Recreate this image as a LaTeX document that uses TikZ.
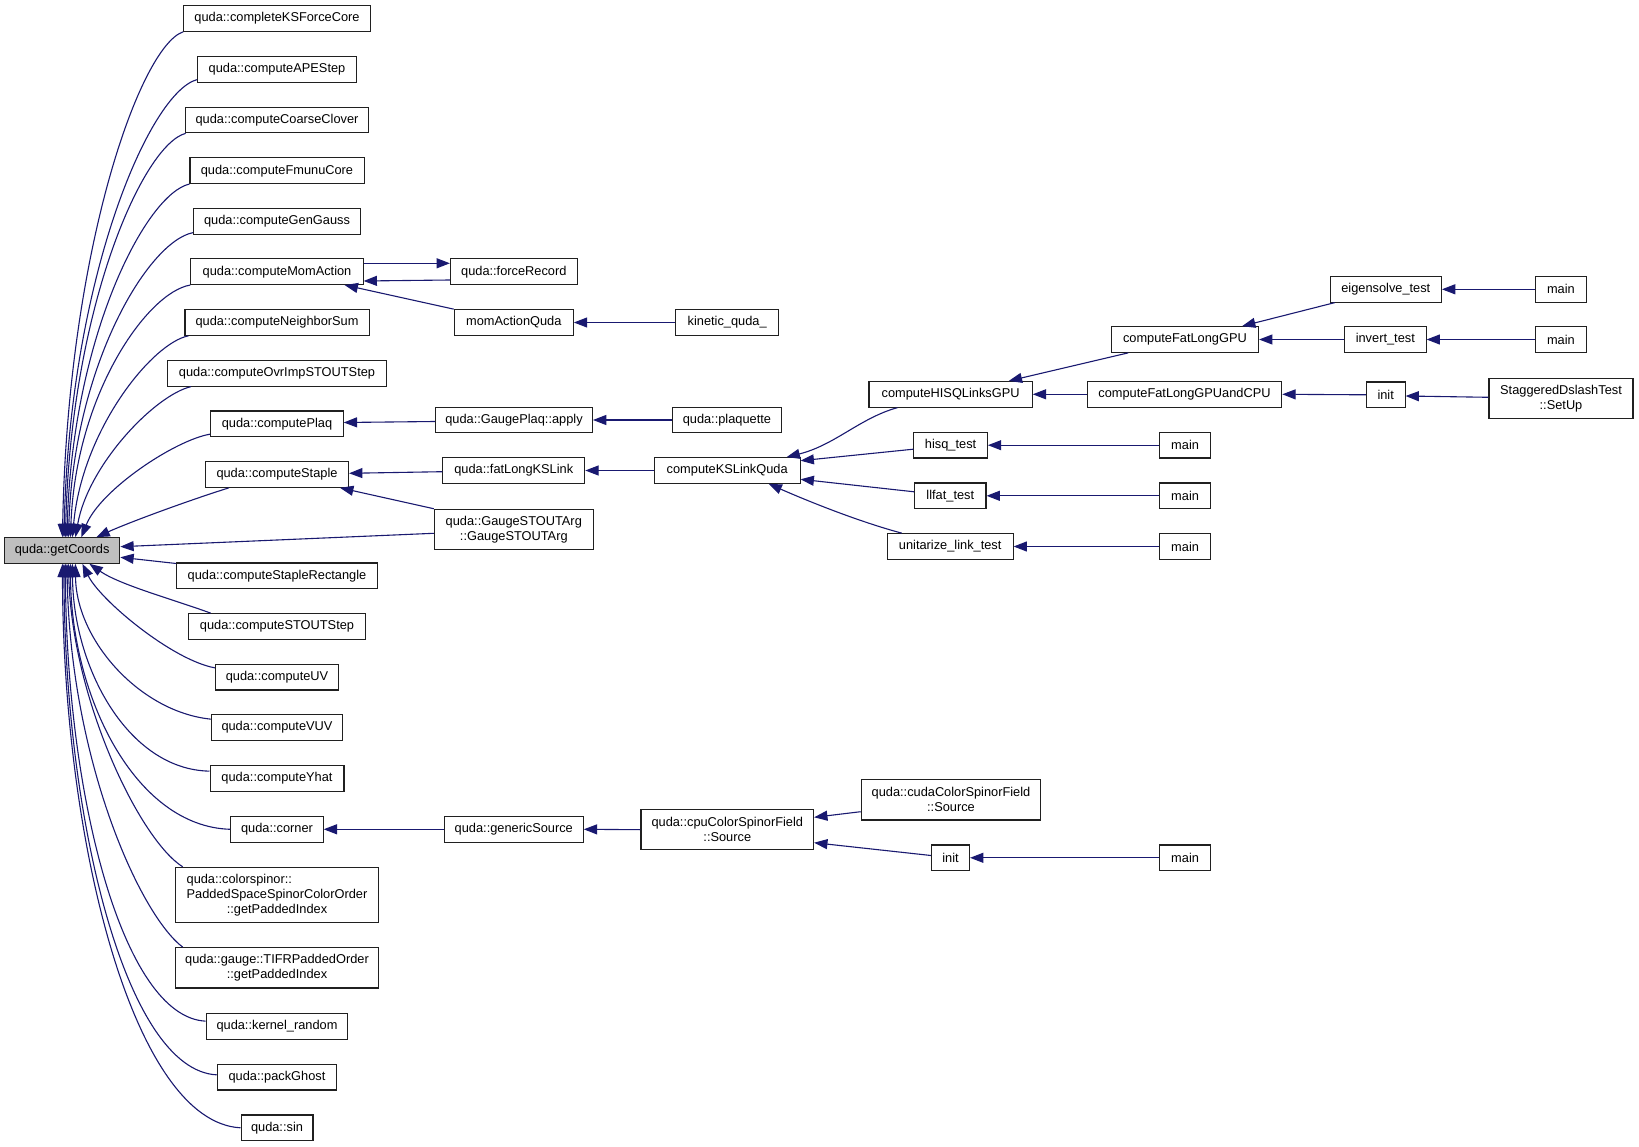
\documentclass[tikz,border=0pt]{standalone}
\usepackage{fontspec}
\setmainfont{Liberation Sans}
\usetikzlibrary{arrows.meta}
\definecolor{edgeblue}{HTML}{191970}
\definecolor{gcfill}{HTML}{BFBFBF}
\definecolor{boxline}{HTML}{202020}
\tikzset{
  fn/.style={draw=boxline, line width=1.1pt, inner sep=0pt, minimum height=25.6pt,
    align=center, font=\fontsize{12.8}{15}\selectfont, text=black},
  edge/.style={draw=edgeblue, line width=1.1pt, -{Triangle[length=13.3pt,width=10pt]}}
}
\begin{document}
\begin{tikzpicture}[x=1pt,y=-1pt]
\fill[white] (0,0) rectangle (1639,1147);
\useasboundingbox (0,0) rectangle (1639,1147);

% column 1
\node[fn, minimum width=115.2pt, fill=gcfill] (gc) at (62.2,550.5) {quda::getCoords};
% column 2
\node[fn, minimum width=186.7pt] (n0) at (277,18.5) {quda::completeKSForceCore};
\node[fn, minimum width=159.2pt] (n1) at (277,69.3) {quda::computeAPEStep};
\node[fn, minimum width=183.7pt] (n2) at (277,120) {quda::computeCoarseClover};
\node[fn, minimum width=174.1pt] (n3) at (277,170.7) {quda::computeFmunuCore};
\node[fn, minimum width=166.9pt] (n4) at (277,221.3) {quda::computeGenGauss};
\node[fn, minimum width=172.2pt] (n5) at (277,271.7) {quda::computeMomAction};
\node[fn, minimum width=184.1pt] (n6) at (277,322.5) {quda::computeNeighborSum};
\node[fn, minimum width=218.9pt] (n7) at (277,373.3) {quda::computeOvrImpSTOUTStep};
\node[fn, minimum width=132.4pt] (n8) at (277,423.8) {quda::computePlaq};
\node[fn, minimum width=143.1pt] (n9) at (277,474.5) {quda::computeStaple};
\node[fn, minimum width=201.3pt] (n10) at (277,575.8) {quda::computeStapleRectangle};
\node[fn, minimum width=177.5pt] (n11) at (277,626.5) {quda::computeSTOUTStep};
\node[fn, minimum width=123.2pt] (n12) at (277,677.2) {quda::computeUV};
\node[fn, minimum width=131.2pt] (n13) at (277,727.5) {quda::computeVUV};
\node[fn, minimum width=133.9pt] (n14) at (277,778.5) {quda::computeYhat};
\node[fn, minimum width=92.3pt] (n15) at (277,829.3) {quda::corner};
\node[fn, minimum width=203.5pt, minimum height=54.7pt] (n16) at (277,894.7)
  {\makebox[0pt][l]{quda::colorspinor::}\phantom{PaddedSpaceSpinorColorOrder}\\PaddedSpaceSpinorColorOrder\\::getPaddedIndex};
\node[fn, minimum width=203.5pt, minimum height=40.3pt] (n17) at (277,967.8) {quda::gauge::TIFRPaddedOrder\\::getPaddedIndex};
\node[fn, minimum width=141.6pt] (n18) at (277,1026.5) {quda::kernel\_random};
\node[fn, minimum width=119.4pt] (n19) at (277,1077.2) {quda::packGhost};
\node[fn, minimum width=71.9pt] (n20) at (277,1127.8) {quda::sin};
% column 3
\node[fn, minimum width=126.7pt] (fr) at (513.8,271.7) {quda::forceRecord};
\node[fn, minimum width=119pt] (mq) at (513.8,322.5) {momActionQuda};
\node[fn, minimum width=156.9pt] (ap) at (514,420) {quda::GaugePlaq::apply};
\node[fn, minimum width=141.9pt] (fl) at (513.8,470.5) {quda::fatLongKSLink};
\node[fn, minimum width=158.8pt, minimum height=40pt] (gsa) at (513.8,529.3) {quda::GaugeSTOUTArg\\::GaugeSTOUTArg};
\node[fn, minimum width=138.9pt] (gs) at (513.8,829.3) {quda::genericSource};
% column 4
\node[fn, minimum width=103.3pt] (kq) at (727.2,322.5) {kinetic\_quda\_};
\node[fn, minimum width=109.4pt] (pq) at (726.9,420) {quda::plaquette};
\node[fn, minimum width=145.7pt] (ks) at (727.2,470.5) {computeKSLinkQuda};
\node[fn, minimum width=172.6pt, minimum height=40.3pt] (cpu) at (727.3,829.7) {quda::cpuColorSpinorField\\::Source};
% column 5
\node[fn, minimum width=163.2pt] (hq) at (950.6,394.3) {computeHISQLinksGPU};
\node[fn, minimum width=73.5pt] (ht) at (950.6,445.2) {hisq\_test};
\node[fn, minimum width=71.4pt] (lt) at (950.3,495.8) {llfat\_test};
\node[fn, minimum width=125.7pt] (ut) at (950.2,546.5) {unitarize\_link\_test};
\node[fn, minimum width=179.5pt, minimum height=40.5pt] (cu) at (951,799.7) {quda::cudaColorSpinorField\\::Source};
\node[fn, minimum width=38pt] (ib) at (950.5,857.8) {init};
% column 6
\node[fn, minimum width=147.3pt] (fg) at (1184.9,339.5) {computeFatLongGPU};
\node[fn, minimum width=194.5pt] (fc) at (1184.5,394.3) {computeFatLongGPUandCPU};
\node[fn, minimum width=51pt] (mh) at (1185.1,445.2) {main};
\node[fn, minimum width=51pt] (ml) at (1185.1,495.8) {main};
\node[fn, minimum width=51pt] (mu) at (1185.1,546.5) {main};
\node[fn, minimum width=51pt] (mb) at (1185.1,857.8) {main};
% column 7
\node[fn, minimum width=111.2pt] (es) at (1385.8,289.3) {eigensolve\_test};
\node[fn, minimum width=81.5pt] (iv) at (1385.3,339.5) {invert\_test};
\node[fn, minimum width=38.7pt] (it) at (1385.7,394.8) {init};
% column 8
\node[fn, minimum width=51.1pt] (me) at (1560.9,289.3) {main};
\node[fn, minimum width=51.1pt] (mi) at (1560.9,339.5) {main};
\node[fn, minimum width=144pt, minimum height=40pt] (sd) at (1561,398.7) {StaggeredDslashTest\\::SetUp};

% edges into getCoords from above
\draw[edge] (n0.south west) .. controls (140.2,46.5) and (67.8,249.1) .. ([xshift=58.4pt]gc.north west);
\draw[edge] ([yshift=3pt]n1.south west) .. controls (149.6,92.8) and (69.8,276.2) .. ([xshift=59.9pt]gc.north west);
\draw[edge] ([xshift=1pt]n2.south west) .. controls (142.9,144.9) and (70.8,306.9) .. ([xshift=61.4pt]gc.north west);
\draw[edge] (n3.south west) .. controls (146,193.9) and (72.4,335.7) .. ([xshift=62.9pt]gc.north west);
\draw[edge] ([yshift=2pt]n4.south west) .. controls (148.7,241.2) and (74,363.5) .. ([xshift=64.4pt]gc.north west);
\draw[edge] (n5.south west) .. controls (147.8,291.9) and (75.8,393.3) .. ([xshift=66.4pt]gc.north west);
\draw[edge] ([xshift=4pt]n6.south west) .. controls (152,343) and (82,430) .. ([xshift=68.4pt]gc.north west);
\draw[edge] ([xshift=24pt]n7.south west) .. controls (155,395) and (88,465) .. ([xshift=71.4pt]gc.north west);
\draw[edge] ([yshift=3pt]n8.south west) .. controls (175,440) and (100,490) .. ([xshift=77.4pt]gc.north west);
\draw[edge] ([xshift=24pt]n9.south west) .. controls (190,500) and (130,522) .. ([xshift=92.4pt]gc.north west);
% straight ones into the right side
\draw[edge] ([yshift=-4pt]gsa.west) -- ([yshift=3.8pt]gc.east);
\draw[edge] ([yshift=-1pt]n10.north west) -- ([yshift=-6.8pt]gc.east);
% edges into getCoords from below
\draw[edge] ([xshift=23pt]n11.north west) .. controls (175,600) and (120,585) .. ([xshift=85.4pt]gc.south west);
\draw[edge] ([yshift=-4pt]n12.north west) .. controls (172,660) and (100,600) .. ([xshift=78.4pt]gc.south west);
\draw[edge] ([yshift=-5pt]n13.north west) .. controls (140,712) and (76,640) .. ([xshift=71.4pt]gc.south west);
\draw[edge] ([yshift=-6pt]n14.north west) .. controls (128,769.6) and (73,667.5) .. ([xshift=68.4pt]gc.south west);
\draw[edge] (n15.west) .. controls (135,826.6) and (71,696.3) .. ([xshift=66.4pt]gc.south west);
\draw[edge] ([xshift=8pt]n16.north west) .. controls (140,840) and (72,700) .. ([xshift=64.4pt]gc.south west);
\draw[edge] ([xshift=8pt]n17.north west) .. controls (140,915) and (70,760) .. ([xshift=62.9pt]gc.south west);
\draw[edge] ([yshift=-8pt]n18.north west) .. controls (122.1,1017.1) and (66,792.5) .. ([xshift=61.4pt]gc.south west);
\draw[edge] ([yshift=-11pt]n19.north west) .. controls (125.7,1070.3) and (64.5,819.4) .. ([xshift=59.9pt]gc.south west);
\draw[edge] (n20.west) .. controls (134.2,1122.2) and (63,845.6) .. ([xshift=58.4pt]gc.south west);

% middle part
\draw[edge] ([yshift=8.4pt]n5.east) -- ([yshift=8.4pt]fr.west);
\draw[edge] ([yshift=-8.3pt]fr.west) -- ([yshift=-9.3pt]n5.east);
\draw[edge] (mq.north west) -- ([xshift=-19pt]n5.south east);
\draw[edge] (kq.west) -- (mq.east);
\draw[edge] ([yshift=-1.5pt]ap.west) -- ([yshift=1.3pt]n8.east);
\draw[edge] (pq.west) -- (ap.east);
\draw[edge] ([yshift=-1.2pt]fl.west) -- ([yshift=1.2pt]n9.east);
\draw[edge] (gsa.north west) -- ([xshift=-9pt]n9.south east);
\draw[edge] (ks.west) -- (fl.east);
\draw[edge] ([xshift=29pt]hq.south west) .. controls (860,418) and (835,445) .. ([xshift=-14pt]ks.north east);
\draw[edge] ([yshift=-4pt]ht.west) -- ([yshift=9.8pt]ks.east);
\draw[edge] ([yshift=4pt]lt.west) -- ([yshift=-8.8pt]ks.east);
\draw[edge] ([xshift=15pt]ut.north west) .. controls (860,522) and (810,502) .. ([xshift=-32pt]ks.south east);
\draw[edge] ([xshift=17.6pt]fg.south west) -- ([xshift=-24pt]hq.north east);
\draw[edge] (fc.west) -- (hq.east);
\draw[edge] ([xshift=5pt]es.south west) -- ([xshift=-17pt]fg.north east);
\draw[edge] (iv.west) -- (fg.east);
\draw[edge] (me.west) -- (es.east);
\draw[edge] (mi.west) -- (iv.east);
\draw[edge] (it.west) -- (fc.east);
\draw[edge] ([yshift=1.4pt]sd.west) -- ([yshift=-1.2pt]it.east);
\draw[edge] (mh.west) -- (ht.east);
\draw[edge] (ml.west) -- (lt.east);
\draw[edge] (mu.west) -- (ut.east);
\draw[edge] (gs.west) -- (n15.east);
\draw[edge] (cpu.west) -- (gs.east);
\draw[edge] ([yshift=-12pt]cu.west) -- ([yshift=12.4pt]cpu.east);
\draw[edge] ([yshift=2.3pt]ib.west) -- ([yshift=-13pt]cpu.east);
\draw[edge] (mb.west) -- (ib.east);
\end{tikzpicture}
\end{document}
